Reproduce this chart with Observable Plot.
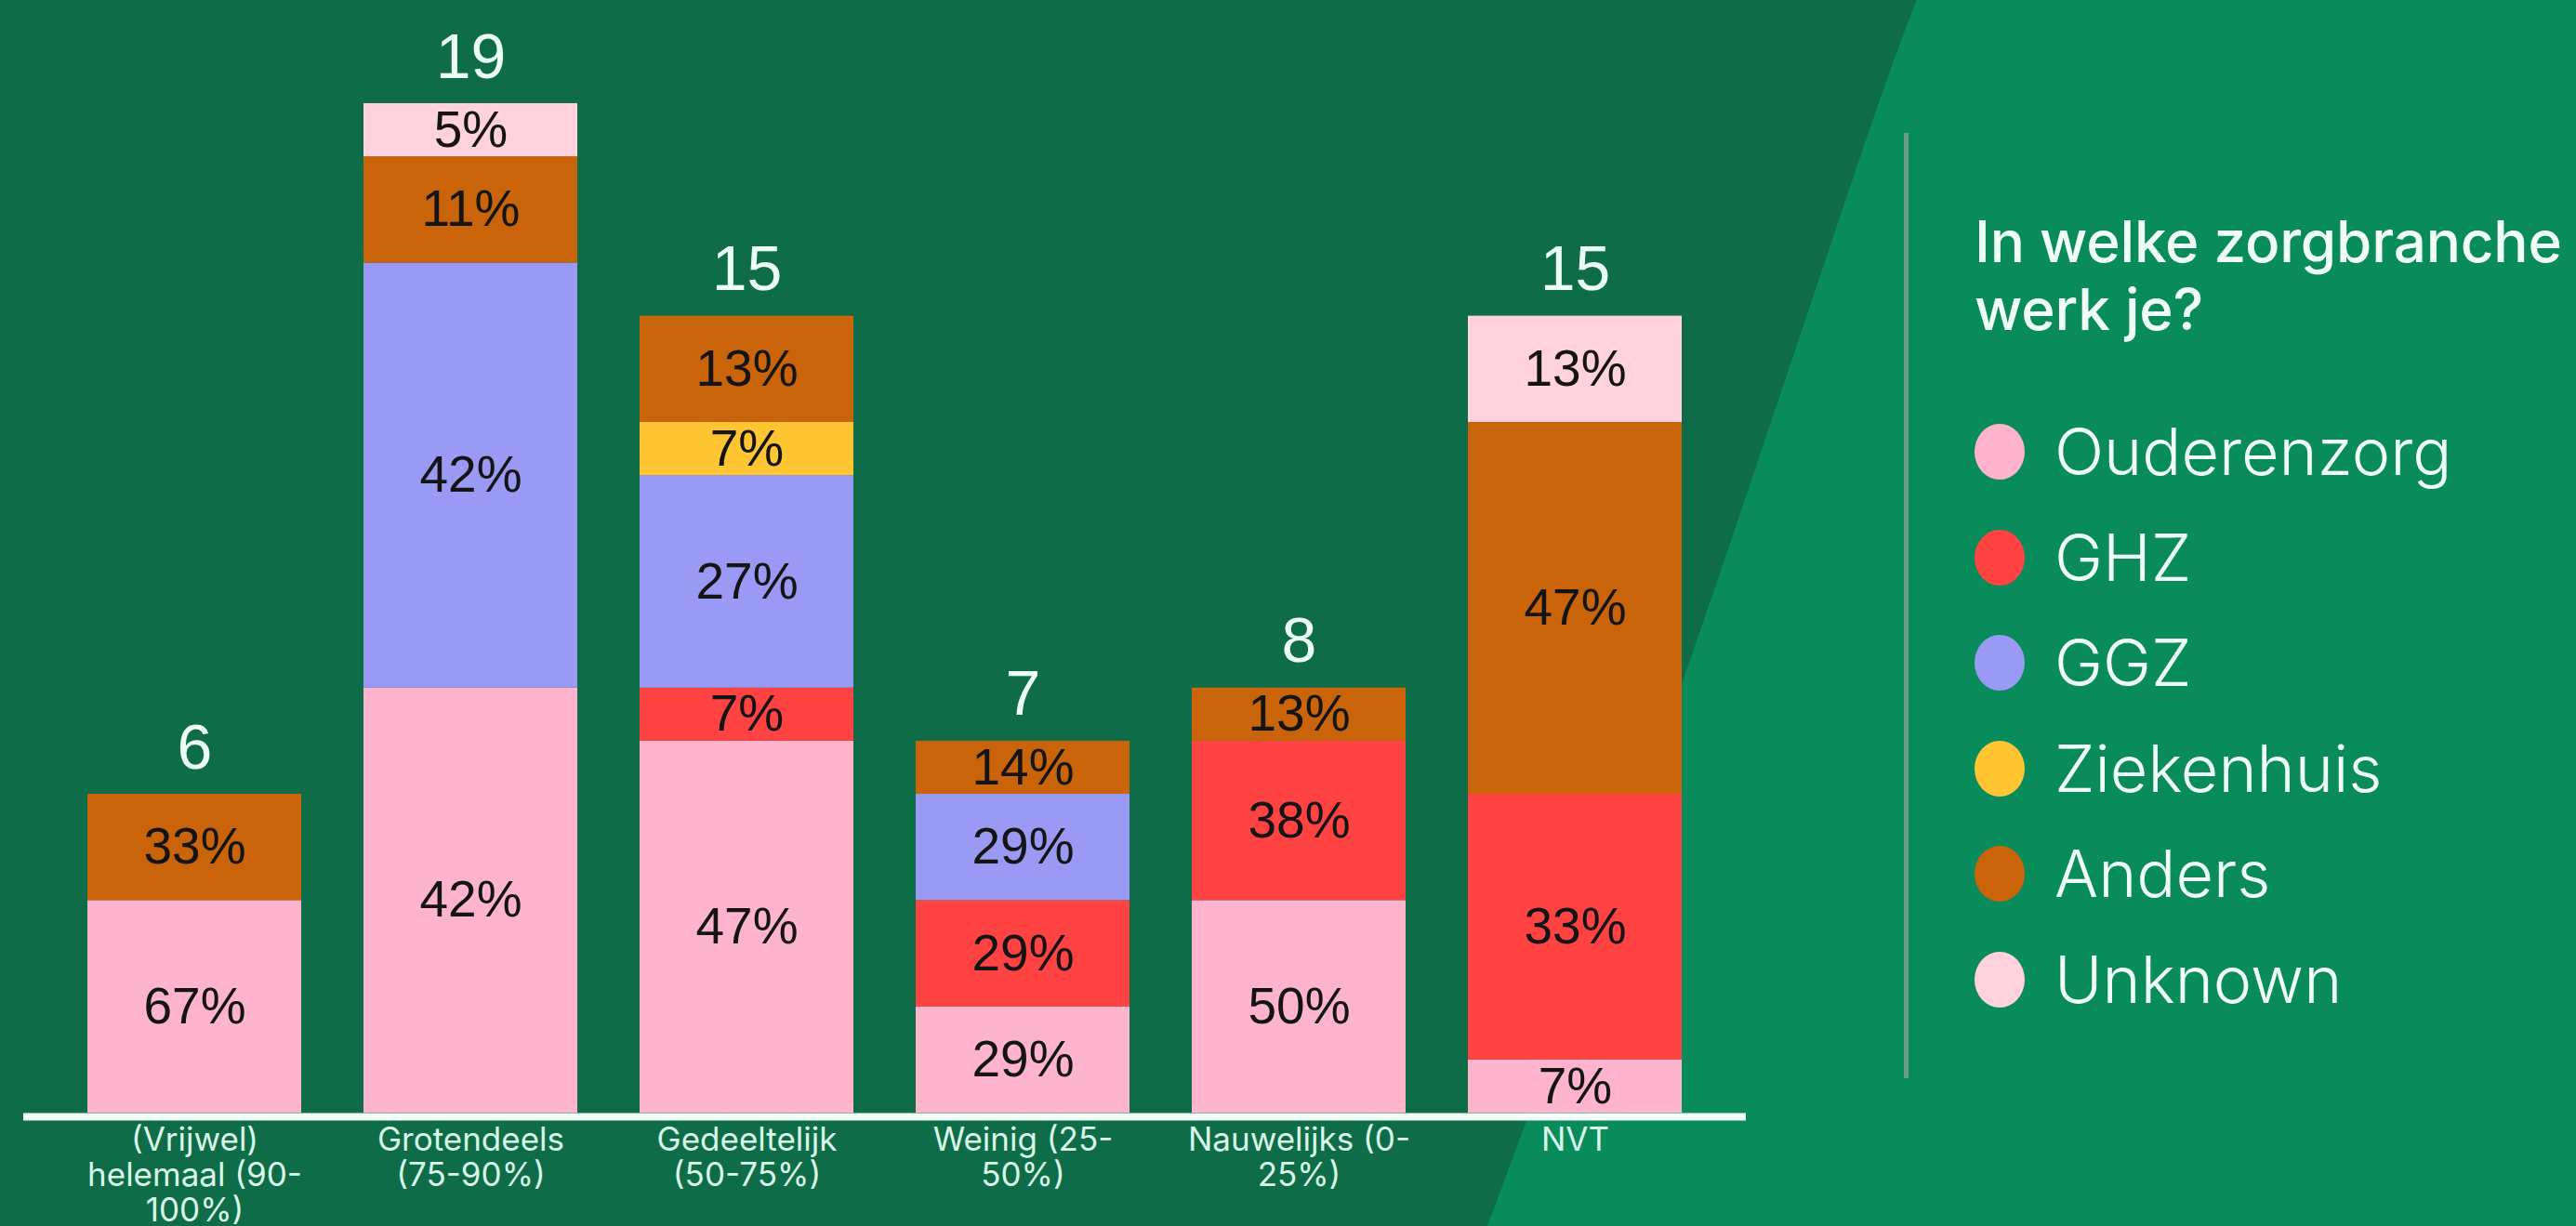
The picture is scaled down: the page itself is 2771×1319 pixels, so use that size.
<!DOCTYPE html>
<html>
<head>
<meta charset="utf-8">
<script src="https://cdn.jsdelivr.net/npm/d3@7"></script>
<script src="https://cdn.jsdelivr.net/npm/@observablehq/plot@0.6"></script>
<style>
  html, body { margin: 0; padding: 0; }
  body { width: 2771px; height: 1319px; overflow: hidden; background: #0f6c48; }
  #page { position: relative; width: 2771px; height: 1319px; }
  #bg2 { position: absolute; left: 0; top: 0; width: 2771px; height: 1319px; background: #0a8b5b;
         clip-path: path('M2062,0 C2000,150 1850,650 1600,1319 L2771,1319 L2771,0 Z'); }
  #chart { position: absolute; left: 0; top: 0; }
  #vline { position: absolute; left: 2048px; top: 143px; width: 5px; height: 1017px; background: #6c9d86; }
  #legend-title { position: absolute; left: 2124px; top: 223px; font-family: Inter, sans-serif; font-weight: 500;
                  font-size: 62px; line-height: 73px; letter-spacing: -0.2px; color: #effff6; white-space: nowrap; }
  .item { position: absolute; left: 2124px; height: 100px; display: flex; align-items: center; }
  .dot { width: 54px; height: 60px; border-radius: 50%; margin-right: 32px; }
  .lab { font-family: Inter, sans-serif; font-weight: 300; font-size: 70px; line-height: 1; color: #effff6; white-space: nowrap; }
</style>
</head>
<body>
<div id="page">
  <div id="bg2"></div>
  <div id="chart"></div>
  <div id="vline"></div>
  <div id="legend"></div>
</div>
<script>
const categories = ["(Vrijwel) helemaal (90-100%)", "Grotendeels (75-90%)", "Gedeeltelijk (50-75%)", "Weinig (25-50%)", "Nauwelijks (0-25%)", "NVT"];
const tickLabels = ["(Vrijwel)\nhelemaal (90-\n100%)", "Grotendeels\n(75-90%)", "Gedeeltelijk\n(50-75%)", "Weinig (25-\n50%)", "Nauwelijks (0-\n25%)", "NVT"];
const series = ["Ouderenzorg", "GHZ", "GGZ", "Ziekenhuis", "Anders", "Unknown"];
const colors = ["#ffb4cd", "#ff4242", "#9a9af4", "#ffc532", "#c9640b", "#ffd2dd"];
const legendTitle = "In welke zorgbranche\nwerk je?";

const ouderenzorg = [4, 8, 7, 2, 4, 1];
const ghz         = [0, 0, 1, 2, 3, 5];
const ggz         = [0, 8, 4, 2, 0, 0];
const ziekenhuis  = [0, 0, 1, 0, 0, 0];
const anders      = [2, 2, 2, 1, 1, 7];
const unknown     = [0, 1, 0, 0, 0, 2];

const seriesValues = [ouderenzorg, ghz, ggz, ziekenhuis, anders, unknown];
const totals = categories.map((c, i) => d3.sum(seriesValues, s => s[i]));

const rows = [];
categories.forEach((cat, i) => {
  series.forEach((s, j) => {
    const v = seriesValues[j][i];
    if (v > 0) rows.push({cat, branch: s, count: v, pct: Math.round(v / totals[i] * 100) + "%"});
  });
});
const totalRows = categories.map((cat, i) => ({cat, total: totals[i]}));

const chart = Plot.plot({
  width: 1900,
  height: 1319,
  marginLeft: 25,
  marginRight: 22,
  marginTop: 111,
  marginBottom: 122,
  style: {background: "transparent", fontFamily: "Inter, sans-serif", overflow: "visible"},
  x: {domain: categories, padding: 0.227, label: null},
  y: {domain: [0, 19], axis: null},
  color: {domain: series, range: colors},
  marks: [
    Plot.barY(rows, Plot.stackY({x: "cat", y: "count", z: "branch", order: series, fill: "branch"})),
    Plot.text(rows, Plot.stackY({x: "cat", y: "count", z: "branch", order: series, text: "pct",
      fontSize: 55, fontFamily: "Liberation Sans, Arial, sans-serif", fill: "#141414"})),
    Plot.text(totalRows, {x: "cat", y: "total", text: d => String(d.total), dy: -28, lineAnchor: "bottom",
      fontSize: 68, fontFamily: "Liberation Sans, Arial, sans-serif", fill: "#ecfff5"}),
    Plot.ruleY([0], {stroke: "#f2fff8", strokeWidth: 8, dy: 4}),
    Plot.axisX({tickSize: 0, tickPadding: 14, fontSize: 35, lineHeight: 1.08, fill: "#d9f8e7",
      fontFamily: "Inter, sans-serif", label: null,
      tickFormat: d => tickLabels[categories.indexOf(d)]})
  ]
});
document.getElementById("chart").appendChild(chart);

// legend
const legend = document.getElementById("legend");
const title = document.createElement("div");
title.id = "legend-title";
title.innerHTML = legendTitle.split("\n").join("<br>");
legend.appendChild(title);
const centers0 = 486, spacing = 113.5;
series.forEach((s, j) => {
  const item = document.createElement("div");
  item.className = "item";
  item.style.top = (centers0 + j * spacing - 50) + "px";
  const dot = document.createElement("div");
  dot.className = "dot";
  dot.style.background = colors[j];
  const lab = document.createElement("span");
  lab.className = "lab";
  lab.textContent = s;
  item.appendChild(dot);
  item.appendChild(lab);
  legend.appendChild(item);
});
</script>
</body>
</html>
